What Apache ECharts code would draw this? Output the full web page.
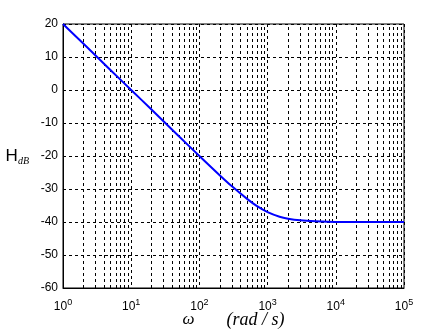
<!DOCTYPE html>
<html>
<head>
<meta charset="utf-8">
<script src="https://cdn.jsdelivr.net/npm/echarts@6/dist/echarts.min.js"></script>
<style>
  html, body { margin: 0; padding: 0; background: #fff; }
  #chart { width: 444px; height: 335px; }
</style>
</head>
<body>
<div id="chart"></div>
<script>
// frequency (rad/s) and magnitude (dB)
var omega = [1, 2, 5, 10, 20, 50, 100, 200, 300, 500, 700, 1000, 1500, 2000, 3000, 5000, 10000, 100000];
var magDb = [20, 14, 6, 0, -6, -14, -20, -25.9, -29.2, -33, -35.2, -37, -38.4, -39, -39.5, -39.8, -40, -40];
var yTicks = [20, 10, 0, -10, -20, -30, -40, -50, -60];
var decades = [1, 10, 100, 1000, 10000, 100000];

var points = omega.map(function (w, i) { return [w, magDb[i]]; });

// dashed grid at 2..9 inside each decade
var minorLines = [];
decades.slice(0, -1).forEach(function (d) {
  for (var k = 2; k <= 9; k++) minorLines.push({ xAxis: d * k });
});

var gridLine = { color: '#000', width: 1, type: [3, 3] };

var chart = echarts.init(document.getElementById('chart'));
chart.setOption({
  animation: false,
  backgroundColor: '#fff',
  grid: {
    left: 63, right: 40, top: 24, bottom: 47,
    outerBoundsMode: 'none',
    containLabel: false,
    show: true, borderColor: '#000', borderWidth: 1
  },
  xAxis: {
    type: 'log',
    logBase: 10,
    min: 1,
    max: 100000,
    axisLine: { onZero: false, lineStyle: { color: '#000', width: 1 } },
    axisTick: { show: false },
    splitLine: { show: true, lineStyle: gridLine },
    axisLabel: {
      margin: 10,
      color: '#000',
      formatter: function (v) {
        return '10{sup|' + Math.round(Math.log10(v)) + '}';
      },
      rich: {
        sup: { fontSize: 9, verticalAlign: 'bottom', padding: [0, 0, 9, 0], fontFamily: 'Liberation Sans', color: '#000' }
      },
      fontFamily: 'Liberation Sans',
      fontSize: 12
    },
    name: '{w|ω}{rs|(rad / s)}',
    nameLocation: 'middle',
    nameGap: 23,
    nameMoveOverlap: false,
    nameTextStyle: {
      rich: {
        w: { fontFamily: 'Liberation Serif', fontStyle: 'italic', fontSize: 17, color: '#000', padding: [0, 32, 0, 0] },
        rs: { fontFamily: 'Liberation Serif', fontStyle: 'italic', fontSize: 18, color: '#000' }
      }
    }
  },
  yAxis: {
    type: 'value',
    min: -60,
    max: 20,
    interval: 10,
    axisLine: { show: true, lineStyle: { color: '#000', width: 1 } },
    axisTick: { show: false },
    splitLine: { show: true, lineStyle: gridLine },
    axisLabel: {
      margin: 5,
      color: '#000',
      fontFamily: 'Liberation Sans',
      fontSize: 12,
      formatter: function (v) { return yTicks.indexOf(v) >= 0 ? String(v) : ''; }
    },
    name: '{h|H}{sub|dB}',
    nameLocation: 'middle',
    nameRotate: 0,
    nameGap: 34,
    nameMoveOverlap: false,
    nameTextStyle: {
      rich: {
        h: { fontFamily: 'Liberation Sans', fontSize: 17, color: '#000' },
        sub: { fontFamily: 'Liberation Serif', fontStyle: 'italic', fontSize: 10, color: '#000', verticalAlign: 'top', padding: [10, 0, 0, 0] }
      }
    }
  },
  series: [{
    type: 'line',
    data: points,
    smooth: 0.3,
    showSymbol: false,
    lineStyle: { color: '#0000ff', width: 2 },
    itemStyle: { color: '#0000ff' },
    z: 5,
    markLine: {
      silent: true,
      symbol: 'none',
      label: { show: false },
      lineStyle: gridLine,
      data: minorLines,
      animation: false
    }
  }]
});
</script>
</body>
</html>
